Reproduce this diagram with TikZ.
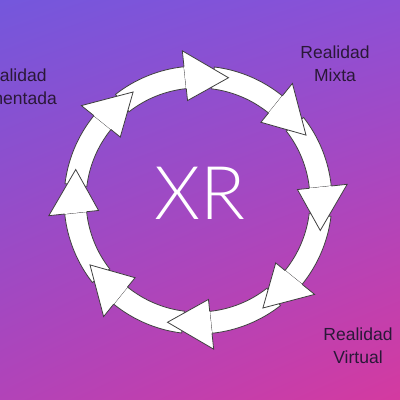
\documentclass[tikz,border=0pt]{standalone}
\usepackage{fontspec}
\setmainfont{Liberation Sans}
\newfontfamily\xrfont{Lato Light}
\usepackage{tikz}
\usetikzlibrary{shadings}

\definecolor{bgtl}{HTML}{7457DC}
\definecolor{bgtr}{HTML}{8C50D6}
\definecolor{bgbl}{HTML}{B243B8}
\definecolor{bgbr}{HTML}{D43AA0}
\definecolor{labeltext}{HTML}{2A1838}

\begin{document}
\begin{tikzpicture}[x=1pt,y=1pt,
	label/.style={align=center,text=labeltext,font=\fontsize{17.5}{23}\selectfont},
	ring/.style={fill=white,draw=black!75,line width=0.8pt,line join=miter}]
	\useasboundingbox (0,0) rectangle (400,400);
	\clip (0,0) rectangle (400,400);
	\shade[upper left=bgtl,upper right=bgtr,lower left=bgbl,lower right=bgbr]
		(0,0) rectangle (400,400);

	\begin{scope}[shift={(198,200)}]
	\foreach \t in {76,31,...,-239}
		\draw[ring] ({\t+52}:112) arc[start angle=\t+52,end angle=\t+20,radius=112]
			-- ({\t+20}:134) arc[start angle=\t+20,end angle=\t+52,radius=134] -- cycle;

	\foreach \t in {76,31,...,-239} {
		\fill[white] ({\t+20}:100) -- (\t:126) -- ({\t+20}:150) -- cycle;
		\draw[ring,fill=none] ({\t+20}:112) -- ({\t+20}:100) -- (\t:126)
			-- ({\t+20}:150) -- ({\t+20}:134);
	}
	\end{scope}

	\node[text=white,font=\xrfont\fontsize{74}{74}\selectfont] (xr) at (200,207) {XR};

	\node[label] (ra) at (12,313.5) {Realidad\\Aumentada};
	\node[label] (rm) at (335,336.5) {Realidad\\Mixta};
	\node[label] (rv) at (358,54) {Realidad\\Virtual};

\end{tikzpicture}
\end{document}
